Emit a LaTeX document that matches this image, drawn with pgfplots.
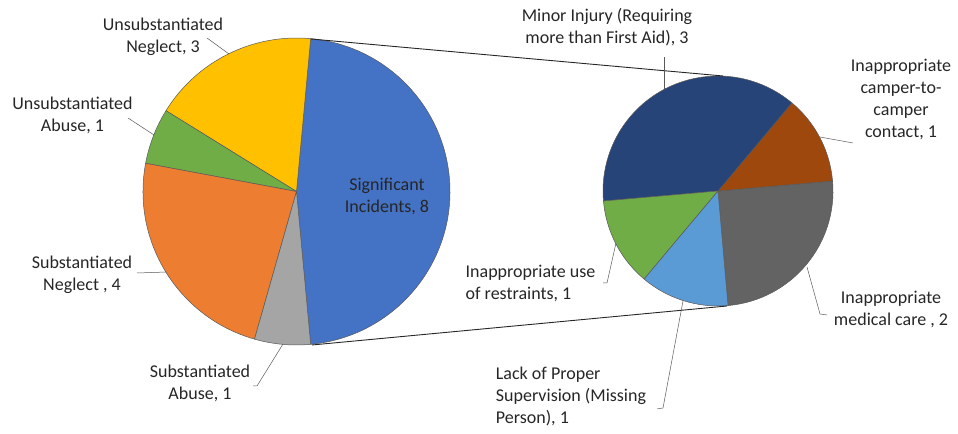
\documentclass[border=0pt]{standalone}
\usepackage{pgfplots}
\pgfplotsset{compat=1.18}
\usepackage{fontspec}
\setmainfont{Carlito}
\definecolor{sigblue}{HTML}{4472C4}
\definecolor{subabuse}{HTML}{A5A5A5}
\definecolor{subneglect}{HTML}{ED7D31}
\definecolor{unabuse}{HTML}{70AD47}
\definecolor{unneglect}{HTML}{FFC000}
\definecolor{minor}{HTML}{264478}
\definecolor{camper}{HTML}{9E480E}
\definecolor{medical}{HTML}{636363}
\definecolor{superv}{HTML}{5B9BD5}
\definecolor{restr}{HTML}{70AD47}
\definecolor{edge}{HTML}{595959}
\definecolor{txt}{HTML}{262626}
% #1 cx, #2 cy, #3 radius, #4 start angle, #5 delta angle, #6 colour
\newcommand\pieslice[6]{%
  \filldraw[fill=#6, draw=edge, line width=0.5bp, line join=round]
    (axis cs:#1,#2) -- ++({#4}:#3bp) arc[start angle={#4}, delta angle={#5}, radius=#3bp] -- cycle;}
\begin{document}
\begin{tikzpicture}
\begin{axis}[x=1bp, y=1bp, xmin=0, xmax=958, ymin=0, ymax=434,
  hide axis, scale only axis, clip=false]
\path (axis cs:0,0) rectangle (axis cs:958,434);
% ---- left pie: total 17; values 8,3,1,4,1 (counter-clockwise)
\pieslice{296.5}{242.5}{153.5}{-360*4/17 + 360*0/17}{360*8/17}{sigblue}
\pieslice{296.5}{242.5}{153.5}{-360*4/17 + 360*8/17}{360*3/17}{unneglect}
\pieslice{296.5}{242.5}{153.5}{-360*4/17 + 360*11/17}{360*1/17}{unabuse}
\pieslice{296.5}{242.5}{153.5}{-360*4/17 + 360*12/17}{360*4/17}{subneglect}
\pieslice{296.5}{242.5}{153.5}{-360*4/17 + 360*16/17}{360*1/17}{subabuse}
% ---- right pie: total 8; values 2,1,3,1,1 (counter-clockwise)
\pieslice{718}{243}{115}{-85 + 360*0/8}{360*2/8}{medical}
\pieslice{718}{243}{115}{-85 + 360*2/8}{360*1/8}{camper}
\pieslice{718}{243}{115}{-85 + 360*3/8}{360*3/8}{minor}
\pieslice{718}{243}{115}{-85 + 360*6/8}{360*1/8}{restr}
\pieslice{718}{243}{115}{-85 + 360*7/8}{360*1/8}{superv}
% ---- connector lines
\draw[black!85, line width=0.9bp] (axis cs:311,395) -- (axis cs:723,358);
\draw[black!85, line width=0.9bp] (axis cs:312,89) -- (axis cs:727,128);
% ---- leader lines
\begin{scope}[black!65, line width=0.5bp]
\draw (axis cs:207,396) -- (axis cs:229,380);
\draw (axis cs:128,316) -- (axis cs:154,299);
\draw (axis cs:137,161) -- (axis cs:167,162);
\draw (axis cs:253,48) -- (axis cs:257,48) -- (axis cs:283,90);
\draw (axis cs:664,377) -- (axis cs:664,345);
\draw (axis cs:820,297) -- (axis cs:853,291);
\draw (axis cs:603,151) -- (axis cs:607,151) -- (axis cs:616,191);
\draw (axis cs:807,167) -- (axis cs:820,120) -- (axis cs:827,119);
\draw (axis cs:683,133) -- (axis cs:663,26) -- (axis cs:657,25);
\end{scope}
% ---- labels
\begin{scope}[every node/.style={inner sep=0pt, text=txt,
   font=\fontsize{18.07}{22.08}\selectfont}]
\node[align=center] at (axis cs:163,397) {Unsubstantiated\\Neglect, 3};
\node[align=center] at (axis cs:72.5,319) {Unsubstantiated\\Abuse, 1};
\node[align=center] at (axis cs:82,159) {Substantiated\\Neglect , 4};
\node[align=center] at (axis cs:200,51) {Substantiated\\Abuse, 1};
\node[align=center] at (axis cs:387,238) {Significant\\Incidents, 8};
\node[align=center] at (axis cs:607,407) {Minor Injury (Requiring\\more than First Aid), 3};
\node[align=center] at (axis cs:901,335) {Inappropriate\\camper-to-\\camper\\contact, 1};
\node[align=left] at (axis cs:530.5,151) {Inappropriate use\\of restraints, 1};
\node[align=center] at (axis cs:891,124.5) {Inappropriate\\medical care , 2};
\node[align=left] at (axis cs:571,37) {Lack of Proper\\Supervision (Missing\\Person), 1};
\end{scope}
\end{axis}
\end{tikzpicture}
\end{document}
